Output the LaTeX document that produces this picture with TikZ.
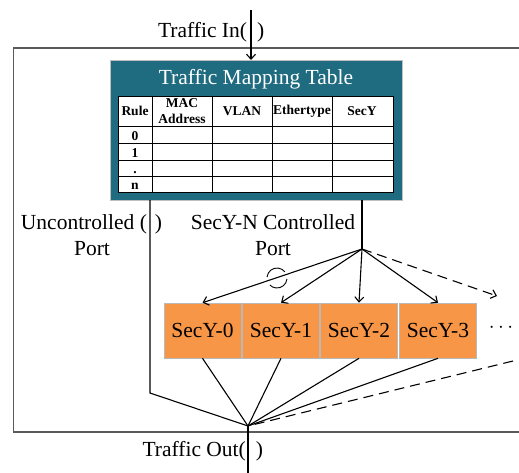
\documentclass[tikz,border=0pt]{standalone}
\usepackage{fontspec}
\setmainfont{Liberation Serif}
\usetikzlibrary{arrows.meta}
\definecolor{tealbox}{HTML}{1F6B7F}
\definecolor{secyorange}{HTML}{F79646}
\definecolor{framegray}{HTML}{5A5A5A}

\begin{document}
\begin{tikzpicture}[x=1pt,y=-1pt,
  line width=1.1pt,
  big/.style={font=\fontsize{21.5}{25}\selectfont, inner sep=0pt},
  hdr/.style={font=\bfseries\fontsize{13.5}{16}\selectfont, inner sep=0pt, align=center},
  secy/.style={fill=secyorange, draw=gray!55, line width=0.6pt,
    minimum width=77pt, minimum height=55pt, inner sep=0pt,
    font=\fontsize{21.5}{25}\selectfont},
  arr/.style={-{Straight Barb[length=5pt,width=9pt]}},
]
\useasboundingbox (0,0) rectangle (519,472);

% outer frame (open on the right)
\draw[framegray, line width=1.2pt] (519,48) -- (13.5,48) -- (13.5,432) -- (519,432);

% mapping table block
\node[fill=tealbox, draw=gray!50, line width=0.8pt, anchor=north west,
      minimum width=292pt, minimum height=140pt, inner sep=0pt] (tbl) at (110,60) {};
\node[big, text=white] (ttl) at (256,79) {Traffic Mapping Table};

% inner grid
\fill[white] (118,96) rectangle (393,192);
\draw[line width=0.9pt] (118,96) rectangle (393,192);
\foreach \cx in {152,212,272,332} \draw[line width=0.9pt] (\cx,96) -- (\cx,192);
\foreach \ry in {126,143,160,176} \draw[line width=0.9pt] (118,\ry) -- (393,\ry);

\node[hdr] (hrule) at (135,111) {Rule};
\node[hdr] (hmac)  at (182,111) {MAC\\Address};
\node[hdr] (hvlan) at (242,111) {VLAN};
\node[hdr] (heth)  at (302,111) {Ethertype};
\node[hdr] (hsecy) at (362,111) {SecY};
\node[hdr, anchor=base] (r0) at (135,140) {0};
\node[hdr, anchor=base] (r1) at (135,157) {1};
\node[hdr, anchor=base] (r2) at (135,173) {.};
\node[hdr, anchor=base] (r3) at (135,189) {n};

% traffic in
\node[big, anchor=base west] (tin) at (157.5,37.5) {Traffic In(\hspace{10pt})};
\coordinate (inTop) at (251,10);
\draw[arr] (inTop) -- (inTop |- tbl.north);

% port labels
\node[big, anchor=base] (unc1) at (91.5,229.5) {Uncontrolled (\hspace{8pt})};
\node[big, anchor=base] (unc2) at (92,255) {Port};
\node[big, anchor=base] (ctl1) at (273,229.5) {SecY-N Controlled};
\node[big, anchor=base] (ctl2) at (273,255) {Port};

% SecY entities
\node[secy] (s0) at (202.5,330.5) {SecY-0};
\node[secy] (s1) at (281,330.5) {SecY-1};
\node[secy] (s2) at (359,330.5) {SecY-2};
\node[secy] (s3) at (438,330.5) {SecY-3};
\node[big] (more) at (501,328) {$\cdots$};

% connection points
\coordinate (uTop) at (150,200);
\coordinate (uBot) at (150,393);
\coordinate (cTop) at (362,200);
\coordinate (fork) at (362,249);
\coordinate (merge) at (248,426);
\coordinate (nextIn) at (497,296);
\coordinate (nextOut) at (513,361);
\coordinate (outEnd) at (248,485);

% uncontrolled path
\draw (uTop) -- (uBot) -- (merge);

% controlled port fan-out
\draw (cTop) -- (fork);
\draw[arr] (fork) -- (s0.north);
\draw[arr] (fork) -- (s1.north);
\draw[arr] (fork) -- (s2.north);
\draw[arr] (fork) -- (s3.north);
\draw[arr, dashed, dash pattern=on 10pt off 6pt] (fork) -- (nextIn);

% port mark on the SecY-0 branch
\coordinate (pm) at (277,278);
\draw[line width=0.9pt] (pm) ++(6:10) arc[start angle=6, end angle=136, radius=10];
\draw[line width=0.9pt] (pm) ++(186:10) arc[start angle=186, end angle=322, radius=10];

% fan-in to traffic out
\draw (s0.south) -- (merge);
\draw (s1.south) -- (merge);
\draw (s2.south) -- (merge);
\draw (s3.south) -- (merge);
\draw[dashed, dash pattern=on 10pt off 6pt] (nextOut) -- (merge);
\draw[arr] (merge) -- (outEnd);

% traffic out
\node[big, anchor=base west] (tout) at (142,456) {Traffic Out(\hspace{10pt})};
\end{tikzpicture}
\end{document}
